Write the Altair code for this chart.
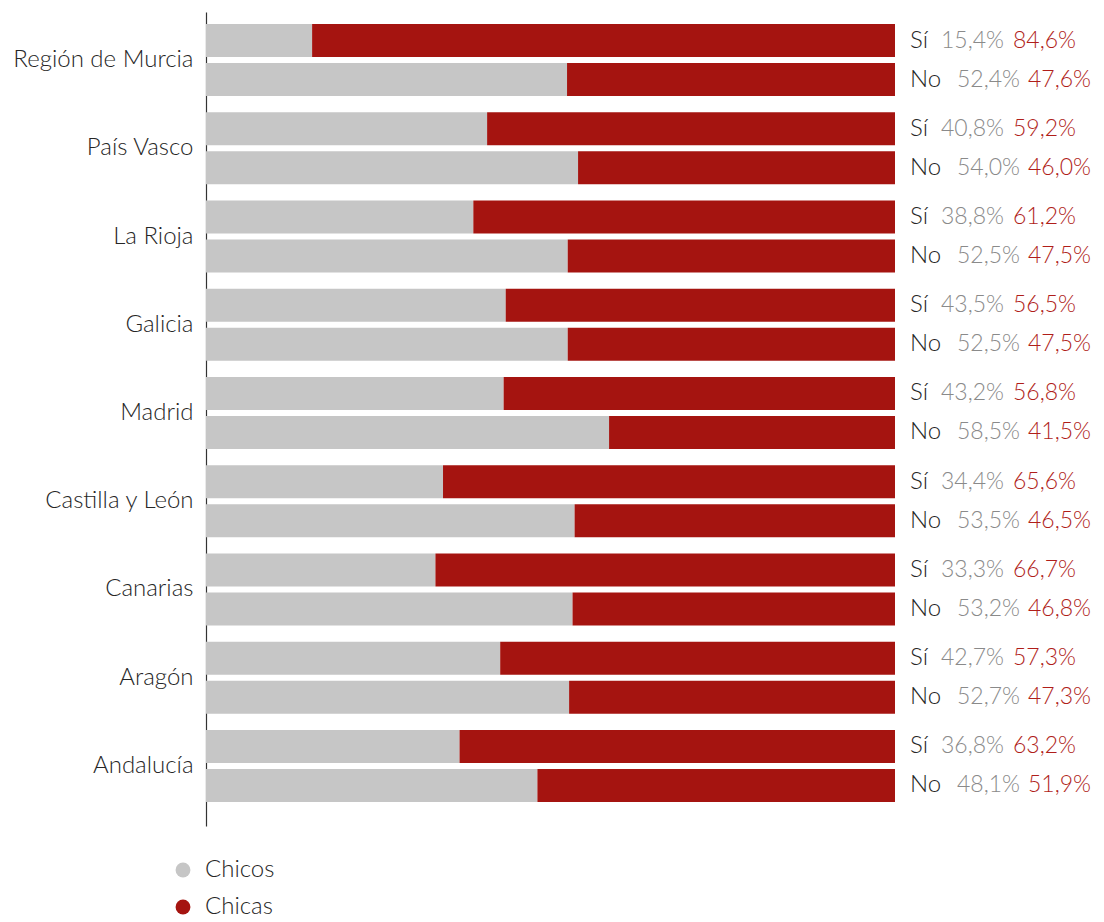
import altair as alt
import pandas as pd

FONT = "Lato"

regions = ["Región de Murcia", "País Vasco", "La Rioja", "Galicia", "Madrid",
           "Castilla y León", "Canarias", "Aragón", "Andalucía"]
answers = ["Sí", "No"]
sexes = ["Chicos", "Chicas"]

chicos_si = [15.4, 40.8, 38.8, 43.5, 43.2, 34.4, 33.3, 42.7, 36.8]
chicas_si = [84.6, 59.2, 61.2, 56.5, 56.8, 65.6, 66.7, 57.3, 63.2]
chicos_no = [52.4, 54.0, 52.5, 52.5, 58.5, 53.5, 53.2, 52.7, 48.1]
chicas_no = [47.6, 46.0, 47.5, 47.5, 41.5, 46.5, 46.8, 47.3, 51.9]

GRAY_BAR = "#c6c6c6"
RED_BAR = "#a51410"
GRAY_TXT = "#8a8a8a"
RED_TXT = "#b01e1a"
DARK_TXT = "#262626"
FS = 24
FS_R = 23


def fmt(v):
    return f"{v:.1f}".replace(".", ",") + "%"


long_rows = []
wide_rows = []
for i, r in enumerate(regions):
    for ans, ch, ca in (("Sí", chicos_si[i], chicas_si[i]), ("No", chicos_no[i], chicas_no[i])):
        long_rows.append({"region": r, "answer": ans, "sexo": "Chicos", "pct": ch, "orden": 0})
        long_rows.append({"region": r, "answer": ans, "sexo": "Chicas", "pct": ca, "orden": 1})
        wide_rows.append({"region": r, "answer": ans, "chicos_lbl": fmt(ch), "chicas_lbl": fmt(ca)})

long_df = pd.DataFrame(long_rows)
wide_df = pd.DataFrame(wide_rows)

y_enc = alt.Y(
    "region:N", sort=regions,
    scale=alt.Scale(paddingInner=0.1841, paddingOuter=0.204, align=1 / 3),
    axis=alt.Axis(title=None, ticks=False, labelFont=FONT, labelFontSize=FS,
                  labelFontWeight=300, labelColor=DARK_TXT, labelPadding=13,
                  labelLimit=400, domainColor="#333333", domainWidth=1.2, grid=False),
)
yoff_enc = alt.YOffset("answer:N", sort=answers,
                       scale=alt.Scale(paddingInner=0.1538, paddingOuter=0))

bars = alt.Chart(long_df).mark_bar(cornerRadius=0).encode(
    x=alt.X("pct:Q", stack="zero", scale=alt.Scale(domain=[0, 100], nice=False), axis=None),
    y=y_enc,
    yOffset=yoff_enc,
    color=alt.Color(
        "sexo:N",
        scale=alt.Scale(domain=sexes, range=[GRAY_BAR, RED_BAR]),
        legend=alt.Legend(
            title=None, orient="none", legendX=-35, legendY=846,
            direction="vertical", symbolType="circle", symbolSize=220,
            symbolStrokeWidth=0, labelFont=FONT, labelFontSize=FS,
            labelFontWeight=300, labelColor=DARK_TXT, labelOffset=10,
            rowPadding=13,
        ),
    ),
    order=alt.Order("orden:Q"),
)

text_base = alt.Chart(wide_df).encode(
    x=alt.X(datum=100, type="quantitative", axis=None),
    y=y_enc,
    yOffset=yoff_enc,
)

answer_txt = text_base.mark_text(
    align="left", baseline="middle", dx=15, font=FONT, fontSize=FS,
    fontWeight=300, color=DARK_TXT,
).encode(text="answer:N")

layers = [bars, answer_txt]
for ans, dx_g, dx_r in (("Sí", 46, 118), ("No", 62, 133)):
    layers.append(
        text_base.transform_filter(alt.datum.answer == ans).mark_text(
            align="left", baseline="middle", dx=dx_g, font=FONT, fontSize=FS_R,
            fontWeight=300, color=GRAY_TXT,
        ).encode(text="chicos_lbl:N")
    )
    layers.append(
        text_base.transform_filter(alt.datum.answer == ans).mark_text(
            align="left", baseline="middle", dx=dx_r, font=FONT, fontSize=FS_R,
            fontWeight=300, color=RED_TXT,
        ).encode(text="chicas_lbl:N")
    )

chart = alt.layer(*layers).properties(
    width=689, height=814,
    padding={"left": 198, "top": 4, "right": 200, "bottom": 96},
    autosize=alt.AutoSizeParams(type="none"),
).configure(background="white").configure_view(stroke=None, strokeWidth=0)

chart.save("out.html", embed_options={"renderer": "svg", "actions": False})
